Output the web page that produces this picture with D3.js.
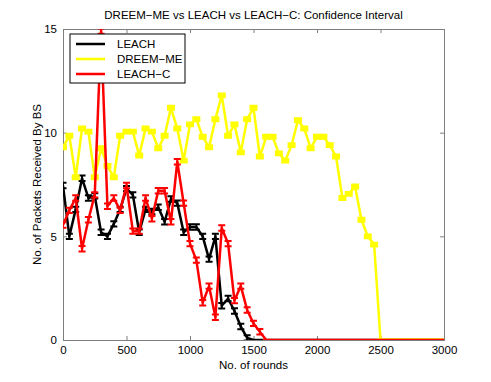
<!DOCTYPE html>
<html>
<head>
<meta charset="utf-8">
<script src="https://cdn.jsdelivr.net/npm/d3@7"></script>
<style>
  body { margin: 0; background: #fff; }
  text { font-family: "Liberation Sans", Arial, sans-serif; }
</style>
</head>
<body>
<script>
// rounds, one point every 50 rounds
let rounds = d3.range(0, 3001, 50)

let leach = [7.45, 5.0, 6.3, 7.8, 6.85, 6.95, 5.2, 5.0, 5.6, 6.3,
  7.3, 7.0, 5.2, 6.3, 6.2, 6.4, 5.7, 6.8, 6.6, 5.2,
  5.45, 5.45, 5.0, 3.9, 5.0, 1.65, 2.0, 1.4, 0.65, 0.1,
  0, 0, 0, 0, 0, 0, 0, 0, 0, 0,
  0, 0, 0, 0, 0, 0, 0, 0, 0, 0,
  0, 0, 0, 0, 0, 0, 0, 0, 0, 0, 0]

let dreem = [9.3, 9.85, 7.85, 10.2, 10.05, 7.85, 9.25, 8.4, 7.85, 9.85,
  10.05, 10.05, 8.9, 10.2, 10.05, 9.25, 9.85, 11.2, 10.2, 8.65,
  10.4, 10.65, 9.8, 9.3, 10.65, 11.8, 9.85, 10.4, 9.05, 10.65,
  11.2, 8.85, 9.8, 9.8, 9.0, 8.65, 9.4, 10.6, 10.2, 9.25,
  9.8, 9.8, 9.4, 8.85, 6.85, 7.05, 7.4, 5.8, 5.0, 4.6,
  0, 0, 0, 0, 0, 0, 0, 0, 0, 0, 0]

let leachC = [5.55, 6.25, 6.85, 4.4, 5.8, 7.0, 14.9, 6.45, 6.85, 6.25,
  7.45, 5.25, 5.25, 6.85, 5.85, 7.2, 7.2, 5.7, 8.6, 6.6,
  4.65, 3.85, 1.8, 2.6, 1.1, 5.4, 4.65, 1.9, 2.6, 1.45,
  0.8, 0.4, 0, 0, 0, 0, 0, 0, 0, 0,
  0, 0, 0, 0, 0, 0, 0, 0, 0, 0,
  0, 0, 0, 0, 0, 0, 0, 0, 0, 0, 0]

// half width of the confidence interval
let ciLeach = 0.13
let ciDreem = 0.07
let ciLeachC = 0.13

let xTicks = [0, 500, 1000, 1500, 2000, 2500, 3000]
let yTicks = [0, 5, 10, 15]

let width = 491
let height = 382
let margin = {left: 63, right: 47, top: 29, bottom: 42}
let axisColor = "#7f7f7f"
let fontSize = 11.5

let svg = d3.select("body")
    .append("svg")
    .attr("width", width)
    .attr("height", height)

let x = d3.scaleLinear()
    .domain([0, 3000])
    .range([margin.left, width - margin.right])
let y = d3.scaleLinear()
    .domain([0, 15])
    .range([height - margin.bottom, margin.top])

svg.append("defs").append("clipPath")
    .attr("id", "plot")
    .append("rect")
    .attr("x", x(0))
    .attr("y", y(15))
    .attr("width", x(3000) - x(0))
    .attr("height", y(0) - y(15))

//axes, ticks pointing inwards on all four sides
let tickSize = 4
svg.append("g")
    .attr("transform", `translate(0, ${y(0)})`)
    .call(d3.axisBottom(x).tickValues(xTicks).tickSize(-tickSize).tickPadding(6).tickFormat(d3.format("d")))
svg.append("g")
    .attr("transform", `translate(0, ${y(15)})`)
    .call(d3.axisTop(x).tickValues(xTicks).tickSize(-tickSize).tickFormat(""))
svg.append("g")
    .attr("transform", `translate(${x(0)}, 0)`)
    .call(d3.axisLeft(y).tickValues(yTicks).tickSize(-tickSize).tickPadding(6))
svg.append("g")
    .attr("transform", `translate(${x(3000)}, 0)`)
    .call(d3.axisRight(y).tickValues(yTicks).tickSize(-tickSize).tickFormat(""))

svg.selectAll(".domain, .tick line")
    .attr("stroke", axisColor)
svg.selectAll(".tick text")
    .attr("font-size", fontSize)
    .attr("fill", "#000")

//series with error bars
let series = [
  {name: "LEACH", values: leach, ci: ciLeach, color: "#000000", cap: 3.5, capWidth: 2},
  {name: "DREEM\u2212ME", values: dreem, ci: ciDreem, color: "#ffff00", cap: 4, capWidth: 3},
  {name: "LEACH\u2212C", values: leachC, ci: ciLeachC, color: "#ff0000", cap: 3.5, capWidth: 2}
]

let line = d3.line()
    .x((d, i) => x(rounds[i]))
    .y(d => y(d))

let plot = svg.append("g").attr("clip-path", "url(#plot)")

series.forEach(s => {
  let g = plot.append("g")
  g.append("path")
      .datum(s.values)
      .attr("d", line)
      .attr("fill", "none")
      .attr("stroke", s.color)
      .attr("stroke-width", 2.5)
      .attr("stroke-linejoin", "round")

  g.selectAll(".bar")
      .data(s.values.map((v, i) => ({r: rounds[i], v: v, e: v > 0 ? s.ci : 0})))
      .enter()
      .append("path")
      .attr("class", "bar")
      .attr("d", d => {
        let cx = x(d.r), lo = y(d.v - d.e), hi = y(d.v + d.e), w = s.cap
        return `M${cx},${lo}V${hi}M${cx - w},${lo}H${cx + w}M${cx - w},${hi}H${cx + w}`
      })
      .attr("fill", "none")
      .attr("stroke", s.color)
      .attr("stroke-width", s.capWidth)
})

//legend
let legend = svg.append("g")
legend.append("rect")
    .attr("x", 70)
    .attr("y", 34)
    .attr("width", 115)
    .attr("height", 49)
    .attr("fill", "#fff")
    .attr("stroke", "#000")
    .attr("stroke-width", 1)

series.forEach((s, i) => {
  let ly = 44 + i * 15
  legend.append("line")
      .attr("x1", 76)
      .attr("x2", 105)
      .attr("y1", ly)
      .attr("y2", ly)
      .attr("stroke", s.color)
      .attr("stroke-width", 2.5)
  legend.append("text")
      .attr("x", 117)
      .attr("y", ly + 4)
      .attr("font-size", fontSize)
      .text(s.name)
})

//title and axis labels
svg.append("text")
    .attr("x", (x(0) + x(3000)) / 2)
    .attr("y", 19)
    .attr("text-anchor", "middle")
    .attr("font-size", fontSize)
    .text("DREEM\u2212ME vs LEACH vs LEACH\u2212C: Confidence Interval")

svg.append("text")
    .attr("x", (x(0) + x(3000)) / 2)
    .attr("y", 369)
    .attr("text-anchor", "middle")
    .attr("font-size", fontSize)
    .text("No. of rounds")

svg.append("text")
    .attr("transform", `translate(41, ${(y(0) + y(15)) / 2}) rotate(-90)`)
    .attr("text-anchor", "middle")
    .attr("font-size", fontSize)
    .text("No. of Packets Received By BS")
</script>
</body>
</html>
